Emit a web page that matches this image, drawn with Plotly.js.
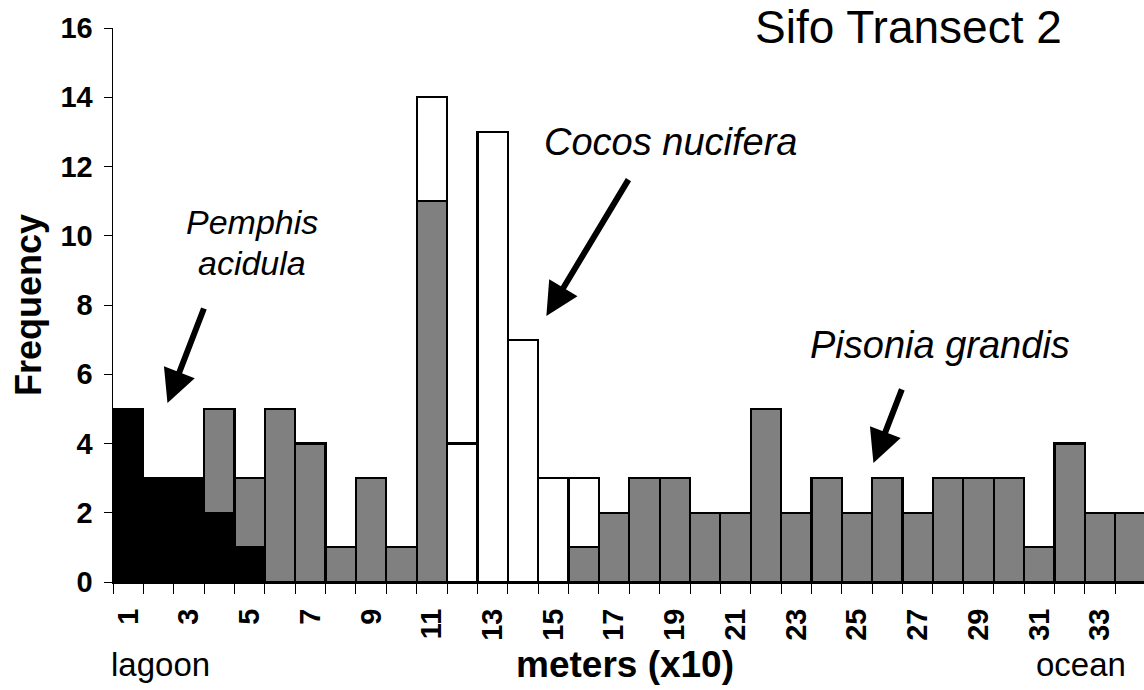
<!DOCTYPE html>
<html>
<head>
<meta charset="utf-8">
<script src="https://cdn.plot.ly/plotly-3.0.1.min.js"></script>
<style>html,body{margin:0;padding:0;background:#fff;}#chart{width:1144px;height:690px;}</style>
</head>
<body>
<div id="chart"></div>
<script>
// Distance classes along the transect (meters x10)
var categories = [1,2,3,4,5,6,7,8,9,10,11,12,13,14,15,16,17,18,19,20,21,22,23,24,25,26,27,28,29,30,31,32,33,34];
// Frequencies per species (stacked: Pemphis at bottom, Pisonia, then Cocos)
var pemphis = [5,3,3,2,1,null,null,null,null,null,null,null,null,null,null,null,null,null,null,null,null,null,null,null,null,null,null,null,null,null,null,null,null,null];
var pisonia = [null,null,null,3,2,5,4,1,3,1,11,null,null,null,null,1,2,3,3,2,2,5,2,3,2,3,2,3,3,3,1,4,2,2];
var cocos   = [null,null,null,null,null,null,null,null,null,null,3,4,13,7,3,2,null,null,null,null,null,null,null,null,null,null,null,null,null,null,null,null,null,null];
// Tick labels: every other class
var tickVals = categories.filter(function(c){ return c % 2 === 1; });
var tickText = tickVals.map(String);
var boundaries = categories.map(function(c){ return c - 0.5; }).concat([categories[categories.length-1] + 0.5]);

var lineStyle = {color: '#000000', width: 2.2};
var traces = [
  {type: 'bar', name: 'Pemphis acidula', x: categories, y: pemphis, marker: {color: '#000000', line: lineStyle}},
  {type: 'bar', name: 'Pisonia grandis', x: categories, y: pisonia, marker: {color: '#808080', line: lineStyle}},
  {type: 'bar', name: 'Cocos nucifera', x: categories, y: cocos, marker: {color: '#ffffff', line: lineStyle}}
];

var F = 'Liberation Sans, Arial, sans-serif';
var layout = {
  width: 1144, height: 690,
  margin: {l: 113, r: 0, t: 28, b: 108, pad: 0},
  paper_bgcolor: '#ffffff', plot_bgcolor: '#ffffff',
  barmode: 'stack', bargap: 0,
  showlegend: false,
  font: {family: F, color: '#000000'},
  xaxis: {
    range: [0.5, 34.45], autorange: false,
    tickmode: 'array', tickvals: tickVals, ticktext: tickText,
    tickangle: -90, ticks: '', ticklabelstandoff: 13,
    tickfont: {family: F, size: 29, color: '#000000', weight: 'bold'},
    minor: {tickmode: 'array', tickvals: boundaries, ticks: 'outside', ticklen: 10, tickwidth: 1, tickcolor: '#000000'},
    showline: true, linecolor: '#000000', linewidth: 2,
    showgrid: false, zeroline: false, fixedrange: true
  },
  yaxis: {
    range: [0, 16], autorange: false, dtick: 2, tick0: 0,
    ticks: 'outside', ticklen: 8, tickwidth: 1, tickcolor: '#000000', ticklabelstandoff: 5,
    tickfont: {family: F, size: 29, color: '#000000', weight: 'bold'},
    showline: true, linecolor: '#000000', linewidth: 1.5,
    showgrid: false, zeroline: false, fixedrange: true
  },
  annotations: [
    {xref: 'paper', yref: 'paper', x: 0.772, y: 1.001, text: 'Sifo Transect 2', showarrow: false,
     xanchor: 'center', yanchor: 'middle', font: {family: F, size: 46, color: '#000000'}},
    {xref: 'paper', yref: 'paper', x: 0.5412, y: 0.795, text: '<i>Cocos nucifera</i>', showarrow: false,
     xanchor: 'center', yanchor: 'middle', font: {family: F, size: 38, color: '#000000'}},
    {xref: 'paper', yref: 'paper', x: 0.1348, y: 0.6498, text: '<i>Pemphis</i>', showarrow: false,
     xanchor: 'center', yanchor: 'middle', font: {family: F, size: 34, color: '#000000'}},
    {xref: 'paper', yref: 'paper', x: 0.1348, y: 0.5758, text: '<i>acidula</i>', showarrow: false,
     xanchor: 'center', yanchor: 'middle', font: {family: F, size: 34, color: '#000000'}},
    {xref: 'paper', yref: 'paper', x: 0.802, y: 0.4278, text: '<i>Pisonia grandis</i>', showarrow: false,
     xanchor: 'center', yanchor: 'middle', font: {family: F, size: 38, color: '#000000'}},
    {xref: 'paper', yref: 'paper', x: 0.0456, y: -0.1498, text: 'lagoon', showarrow: false,
     xanchor: 'center', yanchor: 'middle', font: {family: F, size: 33, color: '#000000'}},
    {xref: 'paper', yref: 'paper', x: 0.9389, y: -0.1498, text: 'ocean', showarrow: false,
     xanchor: 'center', yanchor: 'middle', font: {family: F, size: 33, color: '#000000'}},
    {xref: 'paper', yref: 'paper', x: 0.4965, y: -0.1498, text: '<b>meters (x10)</b>', showarrow: false,
     xanchor: 'center', yanchor: 'middle', font: {family: F, size: 37, color: '#000000'}},
    {xref: 'paper', yref: 'paper', x: -0.0824, y: 0.5, text: '<b>Frequency</b>', showarrow: false, textangle: -90,
     xanchor: 'center', yanchor: 'middle', font: {family: F, size: 36, color: '#000000'}},
    // arrows
    {xref: 'x', yref: 'y', x: 2.294, y: 5.17, ax: 37, ay: -96, text: '', showarrow: true,
     arrowhead: 2, arrowsize: 1.1, arrowwidth: 6, arrowcolor: '#000000'},
    {xref: 'x', yref: 'y', x: 14.77, y: 7.68, ax: 83, ay: -138, text: '', showarrow: true,
     arrowhead: 2, arrowsize: 1.1, arrowwidth: 6, arrowcolor: '#000000'},
    {xref: 'x', yref: 'y', x: 25.54, y: 3.44, ax: 29, ay: -75, text: '', showarrow: true,
     arrowhead: 2, arrowsize: 1.1, arrowwidth: 6, arrowcolor: '#000000'}
  ]
};
Plotly.newPlot('chart', traces, layout, {displayModeBar: false, staticPlot: true});
</script>
</body>
</html>
